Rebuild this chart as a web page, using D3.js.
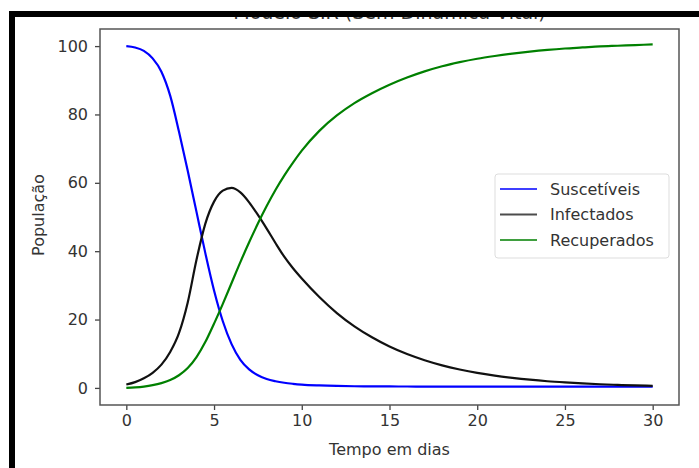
<!DOCTYPE html>
<html>
<head>
<meta charset="utf-8">
<script src="https://cdn.jsdelivr.net/npm/d3@7"></script>
<style>
  body { margin: 0; background: #fff; }
  text { font-family: "DejaVu Sans", sans-serif; fill: #333; }
</style>
</head>
<body>
<div id="chart"></div>
<script>
// time (days) and the three SIR curves
var tempo = [0, 0.5, 1, 1.5, 2, 2.5, 3, 3.5, 4, 4.5, 5, 5.5, 6, 6.5, 7, 7.5, 8, 8.5, 9, 9.5, 10,
  11, 12, 13, 14, 15, 16, 17, 18, 19, 20, 21, 22, 23, 24, 25, 26, 27, 28, 29, 30];
var suscetiveis = [100, 99.6, 98.6, 96.4, 92.5, 85.5, 75, 63.5, 51.5, 39.5, 28.5, 19.5, 12.8, 8.2, 5.4, 3.7, 2.6, 1.95, 1.5, 1.2, 0.97,
  0.72, 0.57, 0.49, 0.45, 0.42, 0.41, 0.4, 0.4, 0.4, 0.4, 0.4, 0.4, 0.4, 0.4, 0.4, 0.4, 0.4, 0.4, 0.4, 0.4];
var infectados = [1, 1.7, 2.8, 4.4, 6.8, 10.5, 16, 25, 37.5, 48, 54.5, 57.7, 58.5, 57.2, 54.3, 50.6, 46.6, 42.4, 38.4, 35, 32,
  26.6, 21.9, 18, 14.8, 12.1, 9.9, 8.1, 6.6, 5.4, 4.4, 3.6, 2.95, 2.4, 1.95, 1.6, 1.3, 1.07, 0.88, 0.72, 0.6];
var recuperados = [0, 0.15, 0.4, 0.8, 1.4, 2.3, 3.7, 5.8, 9, 13.4, 18.8, 24.6, 30.7, 36.8, 42.6, 48.1, 53.2, 57.9, 62.1, 65.9, 69.4,
  75.2, 79.7, 83.3, 86.2, 88.7, 90.8, 92.6, 94.1, 95.3, 96.3, 97.1, 97.8, 98.4, 98.9, 99.3, 99.6, 99.9, 100.1, 100.3, 100.5];
var nomes = ["Suscetíveis", "Infectados", "Recuperados"];
var cores = ["#0000ff", "#111111", "#008000"];
var xTicks = [0, 5, 10, 15, 20, 25, 30];
var yTicks = [0, 20, 40, 60, 80, 100];

const W = 699, H = 468;
const margin = { top: 29, right: 20, bottom: 63, left: 100 };
const width = W - margin.left - margin.right;
const height = H - margin.top - margin.bottom;

const svg = d3.select("#chart").append("svg")
  .attr("width", W).attr("height", H);

const x = d3.scaleLinear().domain([-1.5, 31.5]).range([0, width]);
const y = d3.scaleLinear().domain([-5, 105]).range([height, 0]);

// title (mostly hidden behind the frame, as in the screenshot)
svg.append("text")
  .attr("x", margin.left + width / 2).attr("y", 19)
  .attr("text-anchor", "middle")
  .style("font-size", "19px")
  .text("Modelo SIR (Sem Dinâmica Vital)");

const g = svg.append("g")
  .attr("transform", "translate(" + margin.left + "," + margin.top + ")");

const xAxis = g.append("g")
  .attr("transform", "translate(0," + height + ")")
  .call(d3.axisBottom(x).tickValues(xTicks).tickSize(5).tickPadding(5));
const yAxis = g.append("g")
  .call(d3.axisLeft(y).tickValues(yTicks).tickSize(5).tickPadding(7));

[xAxis, yAxis].forEach(function (a) {
  a.select(".domain").remove();
  a.selectAll("line").attr("stroke", "#444").attr("stroke-width", 1.3);
  a.selectAll("text").style("font-size", "16px").attr("fill", "#333");
});

var series = [suscetiveis, infectados, recuperados];
var line = d3.line()
  .x(function (d, i) { return x(tempo[i]); })
  .y(function (d) { return y(d); })
  .curve(d3.curveMonotoneX);

g.selectAll(".serie")
  .data(series)
  .enter()
  .append("path")
  .attr("class", "serie")
  .attr("fill", "none")
  .attr("stroke", function (d, i) { return cores[i]; })
  .attr("stroke-width", 2.2)
  .attr("d", line);

// axes frame
g.append("rect")
  .attr("width", width).attr("height", height)
  .attr("fill", "none").attr("stroke", "#555").attr("stroke-width", 1.5);

// legend
const leg = g.append("g").attr("transform", "translate(395,145)");
leg.append("rect")
  .attr("width", 174).attr("height", 84).attr("rx", 3)
  .attr("fill", "#fff").attr("stroke", "#ddd");
nomes.forEach(function (n, i) {
  var ly = 15 + i * 25.5;
  leg.append("line")
    .attr("x1", 5).attr("x2", 42).attr("y1", ly).attr("y2", ly)
    .attr("stroke", cores[i]).attr("stroke-width", 2.2).attr("opacity", 0.75);
  leg.append("text")
    .attr("x", 55).attr("y", ly).attr("dy", "0.35em")
    .style("font-size", "16px")
    .text(n);
});

// axis labels
svg.append("text")
  .attr("x", margin.left + width / 2).attr("y", 455)
  .attr("text-anchor", "middle")
  .style("font-size", "16px")
  .text("Tempo em dias");
svg.append("text")
  .attr("transform", "translate(44,215) rotate(-90)")
  .attr("text-anchor", "middle")
  .style("font-size", "16px")
  .text("População");

// screenshot frame: white strip on top, thick black border top and left
svg.append("rect").attr("x", 0).attr("y", 0).attr("width", W).attr("height", 11).attr("fill", "#fff");
svg.append("rect").attr("x", 9).attr("y", 11).attr("width", W - 9).attr("height", 6).attr("fill", "#000");
svg.append("rect").attr("x", 9).attr("y", 11).attr("width", 6).attr("height", H - 11).attr("fill", "#000");
</script>
</body>
</html>
